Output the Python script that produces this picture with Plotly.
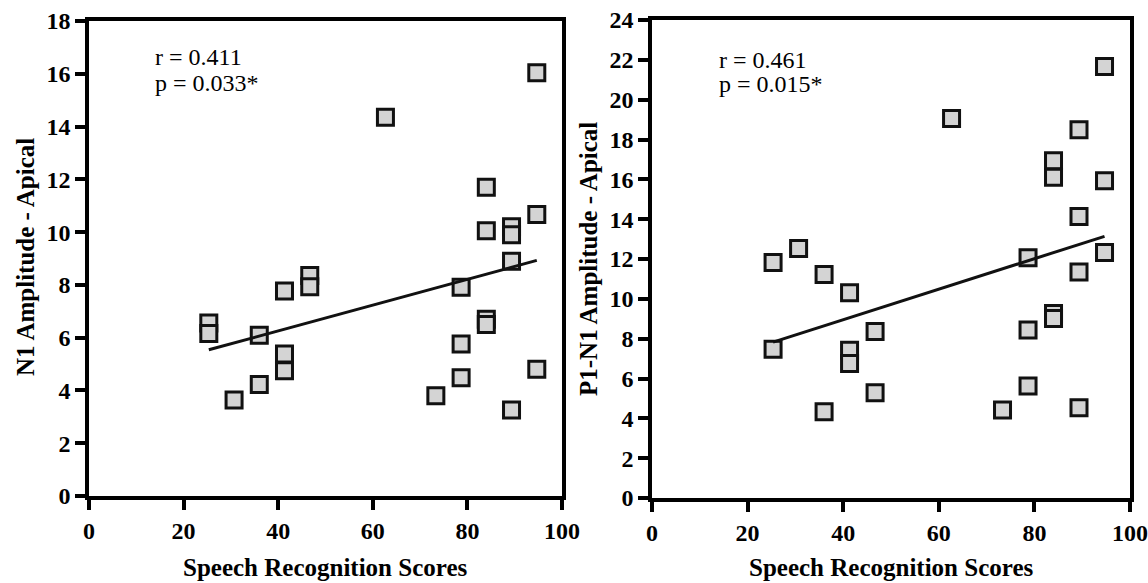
import numpy as np
import plotly.graph_objects as go

# ---- data ----
scores_left = [25.33, 25.33, 30.67, 36.0, 36.0, 41.33, 41.33, 41.33, 46.67, 46.67,
               62.67, 73.33, 78.67, 78.67, 78.67, 84.0, 84.0, 84.0, 84.0,
               89.33, 89.33, 89.33, 89.33, 94.67, 94.67, 94.67]
n1_amp = [6.56, 6.16, 3.64, 6.09, 4.23, 7.77, 5.38, 4.75, 8.36, 7.93,
          14.35, 3.80, 7.91, 5.76, 4.48, 11.70, 10.05, 6.70, 6.50,
          10.20, 9.90, 8.90, 3.26, 16.04, 10.67, 4.80]

scores_right = [25.33, 25.33, 30.67, 36.0, 36.0, 41.33, 41.33, 41.33, 46.67, 46.67,
                62.67, 73.33, 78.67, 78.67, 78.67, 84.0, 84.0, 84.0, 84.0,
                89.33, 89.33, 89.33, 89.33, 94.67, 94.67, 94.67]
p1n1_amp = [11.83, 7.47, 12.53, 11.22, 4.33, 10.30, 7.42, 6.75, 8.36, 5.29,
            19.06, 4.42, 12.06, 8.44, 5.62, 16.93, 16.10, 9.26, 9.01,
            18.49, 14.14, 11.35, 4.53, 21.66, 15.93, 12.33]

stats_left = ["r = 0.411", "p = 0.033*"]
stats_right = ["r = 0.461", "p = 0.015*"]

x_title = "Speech Recognition Scores"
y_title_left = "N1 Amplitude - Apical"
y_title_right = "P1-N1 Amplitude - Apical"

W, H = 1148, 583
FONT = "Liberation Serif"


def px(xp):
    return xp / W


def py(yp):
    return 1 - yp / H


fig = go.Figure()


def add_panel(xs, ys, xa, ya):
    xs = np.array(xs)
    ys = np.array(ys)
    fig.add_trace(go.Scatter(
        x=xs, y=ys, mode="markers", xaxis=xa, yaxis=ya, showlegend=False,
        marker=dict(symbol="square", size=16, color="#d4d4d4",
                    line=dict(color="#111111", width=3)),
    ))
    k, b = np.polyfit(xs, ys, 1)
    lx = np.array([xs.min(), xs.max()])
    fig.add_trace(go.Scatter(
        x=lx, y=k * lx + b, mode="lines", xaxis=xa, yaxis=ya, showlegend=False,
        line=dict(color="#111111", width=3),
    ))


add_panel(scores_left, n1_amp, "x", "y")
add_panel(scores_right, p1n1_amp, "x2", "y2")

axis_common = dict(
    showline=True, linecolor="black", linewidth=3.5, mirror=True,
    ticks="outside", ticklen=10, tickwidth=3.5, tickcolor="black",
    showgrid=False, zeroline=False, automargin=False, ticklabeloverflow="allow",
    tickfont=dict(family=FONT, size=24, color="black", weight="bold"),
)

LX = [px(89), px(562)]
RX = [px(652), px(1130)]

fig.update_layout(
    width=W, height=H,
    margin=dict(l=0, r=0, t=0, b=0),
    paper_bgcolor="white", plot_bgcolor="white",
    xaxis=dict(domain=LX, range=[0, 100], dtick=20, anchor="y", **axis_common),
    yaxis=dict(domain=[py(496), py(21)], range=[0, 18], dtick=2, anchor="x", **axis_common),
    xaxis2=dict(domain=RX, range=[0, 100], dtick=20, anchor="y2", **axis_common),
    yaxis2=dict(domain=[py(498), py(20)], range=[0, 24], dtick=2, anchor="x2", **axis_common),
)

ann = []
title_font = dict(family=FONT, size=25, color="black", weight="bold")
stat_font = dict(family=FONT, size=24, color="black")
# x titles
for dom in (LX, RX):
    ann.append(dict(text=x_title, xref="paper", yref="paper",
                    x=(dom[0] + dom[1]) / 2, y=py(567),
                    xanchor="center", yanchor="middle", showarrow=False, font=title_font))
# y titles
ann.append(dict(text=y_title_left, xref="paper", yref="paper", x=px(25),
                y=py(257), textangle=-90, xanchor="center", yanchor="middle",
                showarrow=False, font=title_font))
ann.append(dict(text=y_title_right, xref="paper", yref="paper", x=px(588),
                y=py(259), textangle=-90, xanchor="center", yanchor="middle",
                showarrow=False, font=title_font))
# stats text
for t, yv in zip(stats_left, [16.65, 15.64]):
    ann.append(dict(text=t, xref="x", yref="y", x=13.6, y=yv, xanchor="left",
                    yanchor="middle", showarrow=False, font=stat_font))
for t, yv in zip(stats_right, [21.99, 20.78]):
    ann.append(dict(text=t, xref="x2", yref="y2", x=13.6, y=yv, xanchor="left",
                    yanchor="middle", showarrow=False, font=stat_font))
fig.update_layout(annotations=ann)

# remove the default 8px page margin so the figure fills the window exactly
fig.write_html("out.html", config={"displayModeBar": False},
               post_script="document.body.style.margin='0';")
